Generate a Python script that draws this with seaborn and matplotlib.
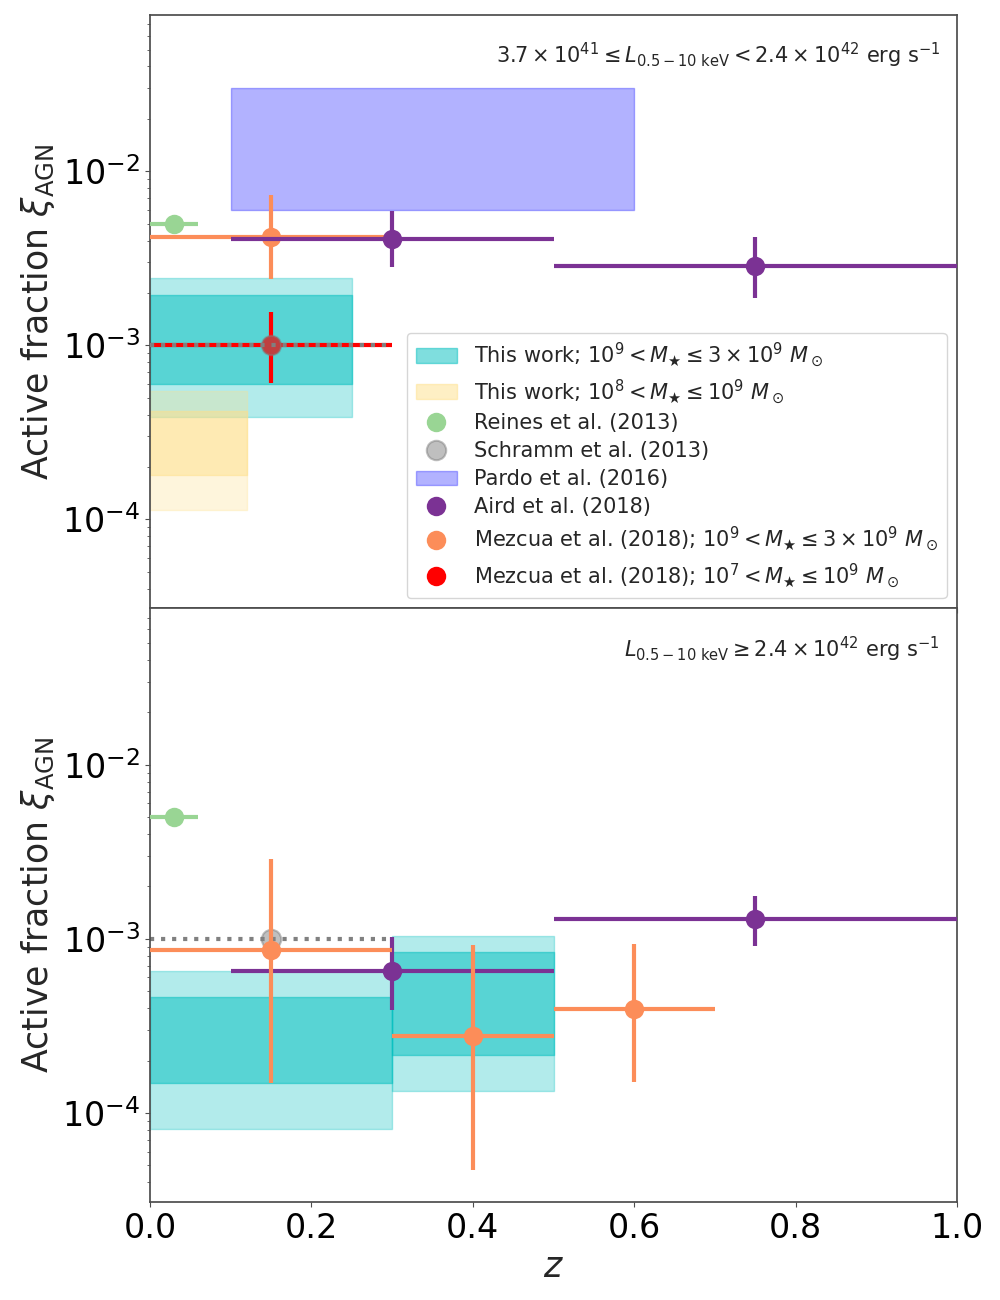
import numpy as np
import pandas as pd
import seaborn as sns
import matplotlib
matplotlib.use('Agg')
import matplotlib.pyplot as plt
from matplotlib.patches import Patch
from matplotlib.lines import Line2D

## Colours
c_this = 'c'
c_this_lo = '#fee08b'
c_reines = '#99d594'
c_schramm = 'gray'
c_pardo = 'b'
c_aird = '#7b3294'
c_mez = '#fc8d59'
c_mez_lo = 'r'

## Top panel data: 3.7e41 <= L < 2.4e42
top_this_z = [[0.0, 0.25]]
top_this_outer_lo = [3.9e-4]
top_this_outer_hi = [2.45e-3]
top_this_inner_lo = [6.0e-4]
top_this_inner_hi = [1.94e-3]

top_thislo_z = [[0.0, 0.12]]
top_thislo_outer_lo = [1.13e-4]
top_thislo_outer_hi = [5.5e-4]
top_thislo_inner_lo = [1.81e-4]
top_thislo_inner_hi = [4.2e-4]

pardo_z = [0.1, 0.6]
pardo_lo = 6.0e-3
pardo_hi = 3.0e-2

top_aird_z = [0.3, 0.75]
top_aird_zlo = [0.1, 0.5]
top_aird_zhi = [0.5, 1.0]
top_aird_y = [4.1e-3, 2.85e-3]
top_aird_ylo = [2.8e-3, 1.86e-3]
top_aird_yhi = [5.9e-3, 4.2e-3]

top_mez_z = [0.15]
top_mez_zlo = [0.0]
top_mez_zhi = [0.3]
top_mez_y = [4.2e-3]
top_mez_ylo = [2.4e-3]
top_mez_yhi = [7.3e-3]

top_mezlo_z = [0.15]
top_mezlo_zlo = [0.0]
top_mezlo_zhi = [0.3]
top_mezlo_y = [1.0e-3]
top_mezlo_ylo = [6.1e-4]
top_mezlo_yhi = [1.55e-3]

## Shared points (both panels)
reines_z = [0.03]
reines_zlo = [0.0]
reines_zhi = [0.06]
reines_y = [5.0e-3]

schramm_z = [0.15]
schramm_zlo = 0.0
schramm_zhi = 0.3
schramm_y = [1.0e-3]

## Bottom panel data: L >= 2.4e42
bot_this_z = [[0.0, 0.3], [0.3, 0.5]]
bot_this_outer_lo = [8.1e-5, 1.34e-4]
bot_this_outer_hi = [6.55e-4, 1.04e-3]
bot_this_inner_lo = [1.49e-4, 2.16e-4]
bot_this_inner_hi = [4.64e-4, 8.4e-4]

bot_aird_z = [0.3, 0.75]
bot_aird_zlo = [0.1, 0.5]
bot_aird_zhi = [0.5, 1.0]
bot_aird_y = [6.55e-4, 1.3e-3]
bot_aird_ylo = [3.9e-4, 9.1e-4]
bot_aird_yhi = [1.03e-3, 1.77e-3]

bot_mez_z = [0.15, 0.4, 0.6]
bot_mez_zlo = [0.0, 0.3, 0.5]
bot_mez_zhi = [0.3, 0.5, 0.7]
bot_mez_y = [8.65e-4, 2.77e-4, 3.97e-4]
bot_mez_ylo = [1.49e-4, 4.7e-5, 1.51e-4]
bot_mez_yhi = [2.88e-3, 9.25e-4, 9.3e-4]

## Style
sns.set_style('ticks')
plt.rcParams['font.family'] = ['DejaVu Sans']
plt.rcParams['mathtext.fontset'] = 'dejavusans'
plt.rcParams['axes.edgecolor'] = '0.3'
plt.rcParams['axes.linewidth'] = 1.25
plt.rcParams['xtick.major.size'] = 3.5
plt.rcParams['ytick.major.size'] = 3.5
plt.rcParams['ytick.minor.size'] = 2
plt.rcParams['xtick.color'] = '0.3'
plt.rcParams['ytick.color'] = '0.3'
plt.rcParams['xtick.labelcolor'] = 'black'
plt.rcParams['ytick.labelcolor'] = 'black'

lw = 3
ms = 196


def boxes(ax, zs, olo, ohi, ilo, ihi, color):
    for z, a, b, c, d in zip(zs, olo, ohi, ilo, ihi):
        ax.fill_between(z, a, b, color=color, alpha=0.3, zorder=1)
        ax.fill_between(z, c, d, color=color, alpha=0.5, zorder=1)


def points(ax, z, zlo, zhi, y, ylo, yhi, color, zorder=3):
    z = np.array(z)
    y = np.array(y)
    xerr = [z - np.array(zlo), np.array(zhi) - z]
    yerr = [y - np.array(ylo), np.array(yhi) - y]
    ax.errorbar(z, y, xerr=xerr, yerr=yerr, fmt='none', ecolor=color,
                elinewidth=lw, capsize=0, zorder=zorder)
    df = pd.DataFrame({'z': z, 'y': y})
    sns.scatterplot(data=df, x='z', y='y', color=color, s=ms, linewidth=0,
                    ax=ax, zorder=zorder, legend=False)


def reines(ax):
    z = np.array(reines_z)
    ax.errorbar(z, reines_y, xerr=[z - np.array(reines_zlo), np.array(reines_zhi) - z],
                fmt='none', ecolor=c_reines, elinewidth=lw, capsize=0, zorder=3)
    sns.scatterplot(x=reines_z, y=reines_y, color=c_reines, s=ms, linewidth=0,
                    ax=ax, zorder=3, legend=False)


def schramm(ax, zorder):
    ax.hlines(schramm_y, schramm_zlo, schramm_zhi, colors=c_schramm,
              linestyles=':', linewidth=lw, zorder=zorder)
    sns.scatterplot(x=schramm_z, y=schramm_y, color=c_schramm, alpha=0.5, s=ms,
                    linewidth=1.5, edgecolor=c_schramm, ax=ax, zorder=zorder, legend=False)


fig, (ax1, ax2) = plt.subplots(2, 1, figsize=(10, 13), dpi=100, sharex=True)
fig.subplots_adjust(left=0.15, right=0.957, top=0.9885, bottom=0.0754, hspace=0)

## Top panel
boxes(ax1, top_this_z, top_this_outer_lo, top_this_outer_hi,
      top_this_inner_lo, top_this_inner_hi, c_this)
boxes(ax1, top_thislo_z, top_thislo_outer_lo, top_thislo_outer_hi,
      top_thislo_inner_lo, top_thislo_inner_hi, c_this_lo)
ax1.fill_between(pardo_z, pardo_lo, pardo_hi, color=c_pardo, alpha=0.3, zorder=1)
reines(ax1)
points(ax1, top_mez_z, top_mez_zlo, top_mez_zhi, top_mez_y, top_mez_ylo, top_mez_yhi, c_mez, 3)
points(ax1, top_aird_z, top_aird_zlo, top_aird_zhi, top_aird_y, top_aird_ylo, top_aird_yhi, c_aird, 4)
points(ax1, top_mezlo_z, top_mezlo_zlo, top_mezlo_zhi, top_mezlo_y, top_mezlo_ylo,
       top_mezlo_yhi, c_mez_lo, 4)
schramm(ax1, 5)

## Bottom panel
boxes(ax2, bot_this_z, bot_this_outer_lo, bot_this_outer_hi,
      bot_this_inner_lo, bot_this_inner_hi, c_this)
reines(ax2)
schramm(ax2, 2)
points(ax2, bot_aird_z, bot_aird_zlo, bot_aird_zhi, bot_aird_y, bot_aird_ylo, bot_aird_yhi, c_aird, 3)
points(ax2, bot_mez_z, bot_mez_zlo, bot_mez_zhi, bot_mez_y, bot_mez_ylo, bot_mez_yhi, c_mez, 3)

for ax in (ax1, ax2):
    ax.set_yscale('log')
    ax.set_xlim(0, 1)
    ax.set_ylim(3.08e-5, 7.9e-2)
    ax.set_ylabel(r'Active fraction $\xi_{\rm AGN}$', fontsize=25)
    ax.tick_params(axis='both', which='major', labelsize=24)
    ax.set_xlabel('')

ax2.set_xticks([0.0, 0.2, 0.4, 0.6, 0.8, 1.0])
ax2.set_xlabel(r'$z$', fontsize=25)

ax1.text(0.979, 0.932,
         r'$3.7\times10^{41}\leq L_{0.5-10\ \mathrm{keV}} < 2.4\times10^{42}$ erg s$^{-1}$',
         transform=ax1.transAxes, ha='right', va='center', fontsize=15)
ax2.text(0.979, 0.931,
         r'$L_{0.5-10\ \mathrm{keV}} \geq 2.4\times10^{42}$ erg s$^{-1}$',
         transform=ax2.transAxes, ha='right', va='center', fontsize=15)

## Legend built by hand so markers show without error bars
def dot(color, alpha=1.0, edge=None):
    return Line2D([], [], linestyle='none', marker='o', markersize=14,
                  markerfacecolor=color, markeredgecolor=edge or color,
                  markeredgewidth=1.5 if edge else 0, alpha=alpha)

handles = [Patch(facecolor=c_this, edgecolor=c_this, alpha=0.5),
           Patch(facecolor=c_this_lo, edgecolor=c_this_lo, alpha=0.5),
           dot(c_reines),
           dot(c_schramm, 0.5, c_schramm),
           Patch(facecolor=c_pardo, edgecolor=c_pardo, alpha=0.3),
           dot(c_aird),
           dot(c_mez),
           dot(c_mez_lo)]
labels = [r'This work; $10^9 < M_\bigstar \leq 3\times10^9\ M_\odot$',
          r'This work; $10^8 < M_\bigstar \leq 10^9\ M_\odot$',
          'Reines et al. (2013)',
          'Schramm et al. (2013)',
          'Pardo et al. (2016)',
          'Aird et al. (2018)',
          r'Mezcua et al. (2018); $10^9 < M_\bigstar \leq 3\times10^9\ M_\odot$',
          r'Mezcua et al. (2018); $10^7 < M_\bigstar \leq 10^9\ M_\odot$']
ax1.legend(handles, labels, loc='lower right', fontsize=15, handlelength=2.0,
           labelspacing=0.38)

fig.savefig('out.png', dpi=100)
